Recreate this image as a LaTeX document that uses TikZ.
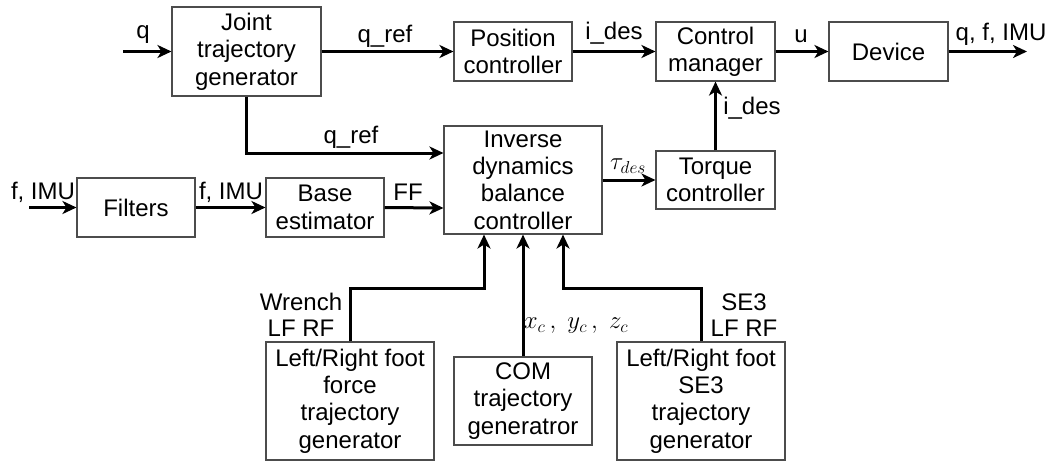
\documentclass[tikz,border=0pt]{standalone}
\usepackage{fontspec}
\setmainfont{Liberation Sans}
\usetikzlibrary{arrows.meta,calc}
\tikzset{
  blk/.style={draw=black!70, line width=1.1pt, rectangle, align=center, inner sep=0pt,
    font=\fontsize{24}{27.4}\selectfont},
  lbl/.style={inner sep=0pt, align=center, font=\fontsize{24}{26}\selectfont},
  sig/.style={line width=3pt, -{Stealth[length=14pt,width=13pt,inset=4pt]}},
}
\begin{document}
\begin{tikzpicture}[x=1pt,y=-1pt]
\useasboundingbox (0,0) rectangle (1057,461);
% blocks
\node[blk, minimum width=149pt, minimum height=89pt] (joint) at (246.5,51.5) {Joint\\trajectory\\generator};
\node[blk, minimum width=118pt, minimum height=59pt] (pos) at (513,51.5) {Position\\controller};
\node[blk, minimum width=119pt, minimum height=59pt] (ctrl) at (715.5,51.5) {Control\\manager};
\node[blk, minimum width=119pt, minimum height=59pt] (dev) at (888.5,51.5) {Device};
\node[blk, minimum width=158pt, minimum height=108pt] (inv) at (523,180) {Inverse\\dynamics\\balance\\controller};
\node[blk, minimum width=119pt, minimum height=58pt] (torq) at (715.5,180) {Torque\\controller};
\node[blk, minimum width=118pt, minimum height=59pt] (filt) at (136,207.5) {Filters};
\node[blk, minimum width=118pt, minimum height=59pt] (base) at (325,207.5) {Base\\estimator};
\node[blk, minimum width=168pt, minimum height=118pt] (lft) at (350,401) {Left/Right foot\\force\\trajectory\\generator};
\node[blk, minimum width=138pt, minimum height=88pt] (com) at (523,401) {COM\\trajectory\\generatror};
\node[blk, minimum width=168pt, minimum height=118pt] (rgt) at (701,401) {Left/Right foot\\SE3\\trajectory\\generator};
% free ends
\coordinate (qin) at (123,51.5);
\coordinate (fin) at (29,207.5);
\coordinate (qout) at (1027,51.5);
% connectors
\draw[sig] (qin) -- (joint.west);
\draw[sig] (joint.east) -- (pos.west);
\draw[sig] (joint.south) |- ([yshift=27pt]inv.west);
\draw[sig] (fin) -- (filt.west);
\draw[sig] (filt.east) -- (base.west);
\draw[sig] (base.east) -- ([yshift=-28pt]inv.west);
\draw[sig] (pos.east) -- (ctrl.west);
\draw[sig] (ctrl.east) -- (dev.west);
\draw[sig] (dev.east) -- (qout);
\draw[sig] (torq.north) -- (ctrl.south);
\draw[sig] (inv.east) -- (torq.west);
\draw[sig] (lft.north) -- ++(0,-53) -| ([xshift=-39pt]inv.south);
\draw[sig] (com.north) -- (inv.south);
\draw[sig] (rgt.north) -- ++(0,-53) -| ([xshift=40pt]inv.south);
% labels
\node[lbl] (lq) at (143,35) {q};
\node[lbl] (lqref1) at (385,36) {q\_ref};
\node[lbl] (lqref2) at (351,137) {q\_ref};
\node[lbl] (lf1) at (43,192) {f, IMU};
\node[lbl] (lf2) at (231,192) {f, IMU};
\node[lbl] (lff) at (408,192) {FF};
\node[lbl] (lides1) at (614,33) {i\_des};
\node[lbl] (lu) at (801,36) {u};
\node[lbl] (lout) at (1001,34) {q, f, IMU};
\node[lbl] (lides2) at (752,108) {i\_des};
\node[lbl] (ltau) at (628,166) {$\tau_{des}$};
\node[lbl] (lwr) at (301,315) {Wrench\\LF RF};
\node[lbl] (lse) at (744,315) {SE3\\LF RF};
\node[lbl] (lxyz) at (576,326) {$x_c\,,\;y_c\,,\;z_c$};
\end{tikzpicture}
\end{document}
